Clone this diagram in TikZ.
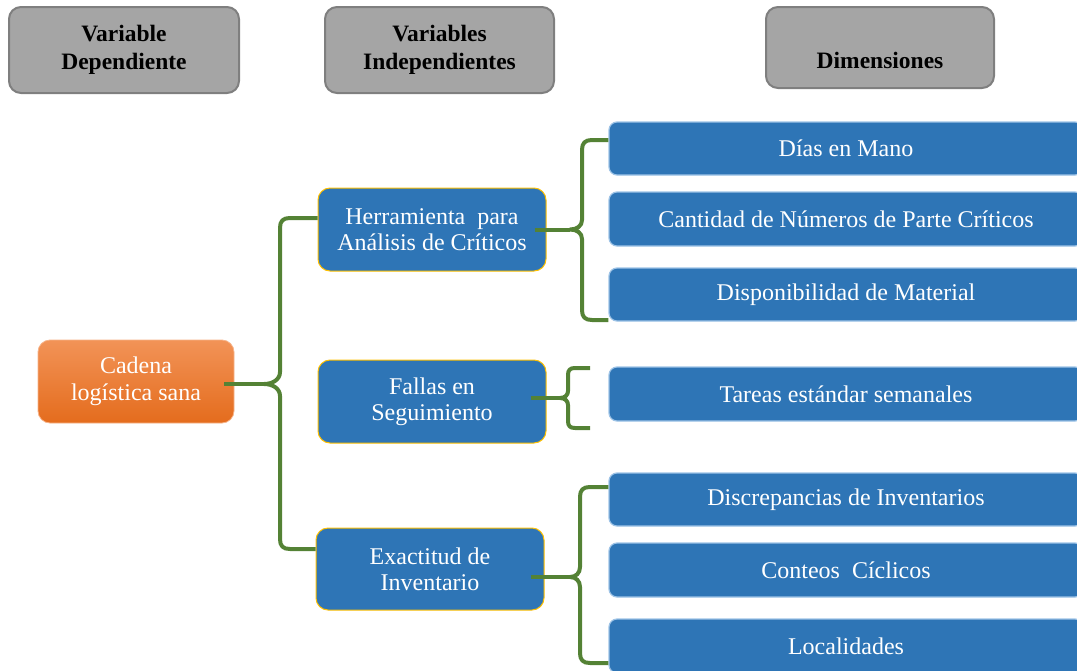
\documentclass[tikz,border=0pt]{standalone}
\usepackage{fontspec}
\setmainfont{Liberation Serif}
\definecolor{hdrfill}{HTML}{A5A5A5}
\definecolor{hdredge}{HTML}{7F7F7F}
\definecolor{boxblue}{HTML}{2E75B6}
\definecolor{boxedge}{HTML}{9DC3E6}
\definecolor{gold}{HTML}{FFC000}
\definecolor{orgtop}{HTML}{F29357}
\definecolor{orgbot}{HTML}{E46C1D}
\definecolor{linkgreen}{HTML}{548235}
\tikzset{
  hdrtext/.style={inner sep=0pt, align=center,
    font=\fontsize{23.5}{28}\selectfont\bfseries},
  hdr/.style={hdrtext, rounded corners=12pt, fill=hdrfill, draw=hdredge, line width=2pt},
  mainbox/.style={rounded corners=12pt, top color=orgtop, bottom color=orgbot,
    draw=orgtop!70!white, line width=0.8pt, inner sep=0pt, align=center,
    text=white, font=\fontsize{24}{27}\selectfont},
  varbox/.style={rounded corners=12pt, fill=boxblue, draw=gold, line width=1pt,
    inner sep=0pt, align=center, text=white, font=\fontsize{24}{26}\selectfont},
  dimbox/.style={rounded corners=8pt, fill=boxblue, draw=boxedge, line width=1.2pt,
    inner sep=0pt, minimum width=474pt, align=center, text=white,
    font=\fontsize{24}{27}\selectfont},
  conn/.style={draw=linkgreen, line width=4pt, line join=round}
}
\begin{document}
\begin{tikzpicture}[x=1pt,y=1pt]
\useasboundingbox (0,0) rectangle (1077,-670);
\clip (0,0) rectangle (1077,-670);

% column headers
\node[hdr, minimum width=230pt, minimum height=86pt] (h1) at (124,-50) {Variable\\Dependiente};
\node[hdr, minimum width=229pt, minimum height=86pt] (h2) at (439.5,-50) {Variables\\Independientes};
\node[hdr, minimum width=228pt, minimum height=81pt] (h3) at (880,-47.5) {};
\node[hdrtext] (h3t) at ([yshift=-13pt]h3.center) {Dimensiones};

% dependent variable
\node[mainbox, minimum width=196pt, minimum height=83pt] (cad) at (136,-381.5) {Cadena\\logística sana};

% independent variables
\node[varbox, minimum width=228pt, minimum height=83pt] (herr) at (432,-229.5) {Herramienta\ \ para\\Análisis de Críticos};
\node[varbox, minimum width=228pt, minimum height=83pt] (fal) at (432,-401.5) {Fallas en\\Seguimiento};
\node[varbox, minimum width=228pt, minimum height=82pt] (exa) at (430,-569) {Exactitud de\\Inventario};

% dimensions
\node[dimbox, minimum height=53pt] (d1) at (846,-148.5) {Días en Mano};
\node[dimbox, minimum height=54pt] (d2) at (846,-219) {Cantidad de Números de Parte Críticos};
\node[dimbox, minimum height=53pt] (d3) at (846,-294.5) {Disponibilidad de Material};
\node[dimbox, minimum height=54pt] (d4) at (846,-394) {Tareas estándar semanales};
\node[dimbox, minimum height=53pt] (d5) at (846,-499.5) {Discrepancias de Inventarios};
\node[dimbox, minimum height=54pt] (d6) at (846,-570) {Conteos\ \ Cíclicos};
\node[dimbox, minimum height=54pt] (d7) at (846,-646) {Localidades};

% brace: dependent -> independent variables
\coordinate (mt) at (264,-384);
\draw[conn] ([shift={(-10pt,-2.5pt)}]cad.east) -- (mt);
\draw[conn] ([yshift=11.5pt]herr.west) -- (290,-218)
  .. controls (283,-218) and (280,-221) .. (280,-228) -- (280,-372)
  .. controls (280,-380) and (272,-384) .. (mt)
  .. controls (272,-384) and (280,-388) .. (280,-396) -- (280,-539)
  .. controls (280,-546) and (283,-549) .. (290,-549) -- ([yshift=20pt]exa.west);

% brace: Herramienta -> dimensions
\coordinate (ht) at (570,-229.5);
\draw[conn] ([xshift=-12pt]herr.east) -- (ht);
\draw[conn] ([yshift=8.5pt]d1.west) -- (592,-140)
  .. controls (585,-140) and (582,-143) .. (582,-150) -- (582,-220)
  .. controls (582,-226) and (577,-229.5) .. (ht)
  .. controls (577,-229.5) and (582,-233) .. (582,-239) -- (582,-310)
  .. controls (582,-317) and (585,-320) .. (592,-320) -- ([yshift=-25.5pt]d3.west);

% brace: Fallas -> dimensions
\coordinate (ft) at (560,-398);
\coordinate (fa1) at (590,-368);
\coordinate (fa2) at (590,-428);
\draw[conn] ([shift={(-16pt,3.5pt)}]fal.east) -- (ft);
\draw[conn] (fa1) -- (575,-368)
  .. controls (570,-368) and (568,-370) .. (568,-375) -- (568,-391)
  .. controls (568,-395) and (565,-398) .. (ft)
  .. controls (565,-398) and (568,-401) .. (568,-405) -- (568,-421)
  .. controls (568,-426) and (570,-428) .. (575,-428) -- (fa2);

% brace: Exactitud -> dimensions
\coordinate (et) at (570,-577);
\draw[conn] ([shift={(-14pt,-8pt)}]exa.east) -- (et);
\draw[conn] ([yshift=12.5pt]d5.west) -- (590,-487)
  .. controls (583,-487) and (580,-490) .. (580,-497) -- (580,-567)
  .. controls (580,-573) and (576,-577) .. (et)
  .. controls (576,-577) and (580,-581) .. (580,-587) -- (580,-653)
  .. controls (580,-660) and (583,-663) .. (590,-663) -- ([yshift=-17pt]d7.west);
\end{tikzpicture}
\end{document}
